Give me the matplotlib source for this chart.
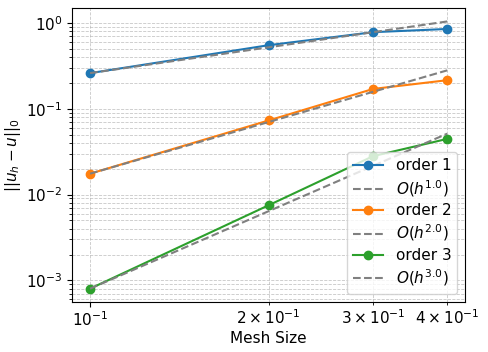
import matplotlib
matplotlib.use("Agg")
import matplotlib.pyplot as plt

plt.rcParams["font.size"] = 11

h = [0.1, 0.2, 0.3, 0.4]
err1 = [0.26, 0.55, 0.78, 0.85]
err2 = [0.0175, 0.073, 0.17, 0.215]
err3 = [0.0008, 0.0075, 0.028, 0.0445]
ref1 = [0.26, 0.52, 0.78, 1.04]
ref2 = [0.0175, 0.07, 0.1575, 0.28]
ref3 = [0.0008, 0.0064, 0.0216, 0.0512]
labels = ["order 1", "order 2", "order 3"]
ref_labels = ["$O(h^{1.0})$", "$O(h^{2.0})$", "$O(h^{3.0})$"]

fig, ax = plt.subplots(figsize=(4.88, 3.52), dpi=100)
for e, r, lab, rl in zip([err1, err2, err3], [ref1, ref2, ref3], labels, ref_labels):
    ax.loglog(h, e, "o-", label=lab)
    ax.loglog(h, r, "--", color="gray", label=rl)
ax.set_xlabel("Mesh Size", labelpad=1.5)
ax.set_ylabel(r"$||u_h - u||_0$", labelpad=2)
ax.tick_params(axis="x", which="both", pad=2.5)
ax.grid(True, which="both", ls="--", lw=0.6, alpha=0.7)
ax.legend(loc="lower right", labelspacing=0.3, borderaxespad=0.5)
fig.subplots_adjust(left=0.148, right=0.953, top=0.977, bottom=0.142)
fig.savefig("out.png", dpi=100)
